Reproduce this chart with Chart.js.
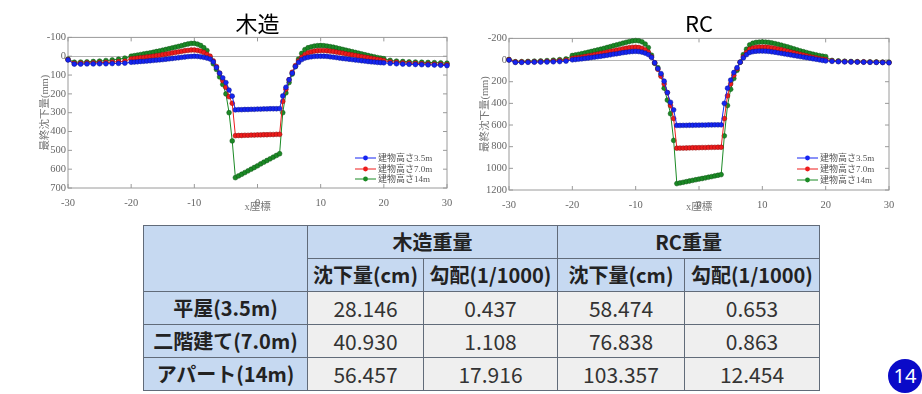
<!DOCTYPE html>
<html>
<head>
<meta charset="utf-8">
<script src="https://cdn.jsdelivr.net/npm/chart.js@4.4.1/dist/chart.umd.min.js"></script>
<style>
  body { margin: 0; width: 922px; height: 394px; background: #fff; overflow: hidden; position: relative; }
  canvas { position: absolute; top: 0; }
  #wood-chart { left: 0; }
  #rc-chart { left: 460px; }
  #settle-table {
    position: absolute; left: 143px; top: 225px; width: 676px;
    border-collapse: collapse; table-layout: fixed;
    font-family: "Noto Sans CJK JP", "Noto Sans", sans-serif; color: #222;
  }
  #settle-table th, #settle-table td {
    border: 1.5px solid #616b79; padding: 0; height: 32px; line-height: 1;
    text-align: center; white-space: nowrap;
  }
  #settle-table th { background: #c6d9f1; font-weight: bold; font-size: 20px; }
  #settle-table td { background: #efefef; font-size: 21px; color: #333; }
  #page-no {
    position: absolute; left: 888px; top: 359px; width: 34px; height: 34px; border-radius: 50%;
    background: #0a0ac8; color: #fff; font: 20px/34px "Noto Sans", sans-serif; text-align: center;
  }
</style>
</head>
<body>
<canvas id="wood-chart" width="460" height="215"></canvas>
<canvas id="rc-chart" width="462" height="215"></canvas>
<table id="settle-table">
  <colgroup><col style="width:164px"><col style="width:116px"><col style="width:134px"><col style="width:127px"><col style="width:135px"></colgroup>
  <tbody id="table-body"></tbody>
</table>
<div id="page-no">14</div>
<script>
// x座標 (m)
var xCoords = [-30, -29, -28, -27, -26, -25, -24, -23, -22, -21,
  -20, -19.5, -19, -18.5, -18, -17.5, -17, -16.5, -16, -15.5, -15, -14.5, -14, -13.5, -13, -12.5, -12, -11.5, -11, -10.5, -10, -9.5, -9, -8.5, -8,
  -7.5, -7, -6.5, -6, -5.5, -5, -4.5, -4,
  -3.5, -3, -2.5, -2, -1.5, -1, -0.5, 0, 0.5, 1, 1.5, 2, 2.5, 3, 3.5,
  4, 4.5, 5, 5.5, 6, 6.5, 7, 7.5,
  8, 8.5, 9, 9.5, 10, 10.5, 11, 11.5, 12, 12.5, 13, 13.5, 14, 14.5, 15, 15.5, 16, 16.5, 17, 17.5, 18, 18.5, 19, 19.5, 20,
  21, 22, 23, 24, 25, 26, 27, 28, 29, 30];

// 木造 最終沈下量 (mm)
var wood35 = [20, 42, 42, 41, 41, 40, 40, 39, 38, 37,
  32, 31, 29.5, 28, 27, 25.5, 24, 22.5, 21, 19.5, 18, 16, 14, 12, 10, 8, 6, 4, 2, 1, 0, 1, 3, 6, 10,
  15, 30, 60, 90, 115, 140, 180, 212,
  285, 284, 284, 283, 283, 282, 282, 281, 281, 280, 280, 279, 279, 279, 278,
  211, 165, 125, 90, 55, 33, 18, 10,
  6, 3, 1, 0, 0, 0, 1, 3, 5, 7, 10, 12, 14, 16, 18, 20, 22, 24, 26, 28, 30, 31, 33, 34, 35,
  38, 40, 42, 43, 44, 45, 46, 47, 48, 50];
var wood70 = [18, 38, 37, 36, 35, 34, 33, 31, 29, 26,
  14, 12, 10, 8, 6, 4, 2, 0, -3, -5, -8, -11, -14, -17, -20, -23, -26, -29, -31, -33, -33, -31, -27, -20, -10,
  0, 25, 55, 90, 130, 165, 215, 250,
  422, 421, 421, 420, 420, 419, 419, 418, 418, 417, 417, 416, 416, 415, 415,
  240, 175, 125, 85, 50, 25, 5, -8,
  -18, -23, -27, -29, -30, -30, -29, -27, -25, -22, -19, -16, -13, -10, -7, -4, -1, 2, 5, 8, 11, 14, 17, 20, 23,
  30, 33, 35, 37, 38, 40, 41, 42, 43, 45];
var wood14 = [15, 32, 31, 30, 28, 26, 23, 20, 16, 10,
  0, -3, -6, -9, -12, -15, -18, -21, -25, -28, -32, -36, -40, -44, -48, -52, -56, -61, -65, -68, -68, -64, -57, -45, -30,
  10, 40, 70, 110, 150, 200, 300, 450,
  645, 636, 627, 618, 609, 600, 591, 582, 572, 563, 554, 545, 536, 527, 518,
  300, 195, 140, 95, 55, 15, -15, -35,
  -45, -50, -54, -56, -57, -56, -54, -51, -48, -44, -40, -36, -32, -28, -24, -20, -16, -12, -8, -4, 0, 3, 7, 10, 13,
  22, 26, 28, 30, 31, 32, 33, 34, 35, 37];

// RC 最終沈下量 (mm)
var rc35 = [0, 22, 22, 21, 20, 19, 18, 16, 14, 10,
  -2, -5, -8, -11, -15, -19, -23, -27, -31, -35, -40, -44, -49, -54, -58, -63, -68, -72, -76, -79, -80, -78, -73, -64, -51,
  -25, 25, 80, 125, 195, 300, 390, 460,
  604, 604, 603, 603, 602, 602, 601, 601, 600, 600, 599, 599, 598, 598, 598,
  400, 260, 185, 115, 70, 20, -20, -50,
  -70, -77, -81, -83, -83, -82, -80, -76, -72, -67, -62, -57, -52, -47, -42, -37, -32, -27, -22, -17, -12, -7, -2, 3, 8,
  12, 15, 17, 18, 19, 20, 21, 22, 23, 25];
var rc70 = [-3, 18, 18, 17, 16, 14, 12, 9, 5, 0,
  -15, -19, -23, -28, -33, -38, -43, -49, -55, -61, -67, -73, -79, -85, -91, -97, -103, -109, -114, -118, -119, -116, -108, -93, -72,
  -30, 25, 85, 150, 220, 300, 420, 540,
  814, 813, 813, 812, 811, 810, 810, 809, 808, 808, 807, 806, 806, 805, 805,
  540, 330, 220, 140, 80, 20, -30, -70,
  -100, -110, -116, -119, -120, -119, -116, -112, -107, -101, -95, -88, -81, -74, -67, -60, -53, -46, -39, -32, -25, -19, -13, -8, -4,
  8, 12, 14, 16, 17, 18, 19, 20, 21, 23];
var rc14 = [-5, 15, 14, 12, 10, 8, 5, 1, -4, -10,
  -42, -47, -53, -59, -65, -72, -79, -86, -93, -100, -108, -116, -124, -132, -140, -148, -156, -164, -171, -177, -180, -178, -168, -148, -115,
  -45, 30, 70, 135, 260, 370, 495, 742,
  1141, 1135, 1129, 1123, 1117, 1111, 1105, 1099, 1094, 1088, 1082, 1076, 1070, 1064, 1058,
  700, 420, 270, 170, 95, 20, -50, -100,
  -140, -155, -163, -166, -167, -166, -163, -158, -152, -145, -137, -129, -121, -112, -103, -94, -85, -77, -69, -61, -54, -47, -41, -36, -32,
  3, 8, 11, 13, 15, 16, 17, 18, 19, 20];

var legendLabels = ['建物高さ3.5m', '建物高さ7.0m', '建物高さ14m'];
var xRange = [-30, 30, 10];
var woodRange = [-100, 700, 100];
var rcRange = [-200, 1200, 200];

// 表
var groupHeads = ['木造重量', 'RC重量'];
var subHeads = ['沈下量(cm)', '勾配(1/1000)', '沈下量(cm)', '勾配(1/1000)'];
var rowNames = ['平屋(3.5m)', '二階建て(7.0m)', 'アパート(14m)'];
var woodSettle = ['28.146', '40.930', '56.457'];
var woodSlope = ['0.437', '1.108', '17.916'];
var rcSettle = ['58.474', '76.838', '103.357'];
var rcSlope = ['0.653', '0.863', '12.454'];

var lineColors = ['#1525f2', '#ee1c1c', '#1b8a25'];
var edgeColors = ['#0a148c', '#8c0d0d', '#0d5214'];
var serif = "'Liberation Serif', 'Noto Sans CJK JP', serif";

Chart.defaults.font.family = serif;
Chart.defaults.color = '#666';

var framePlugin = {
  id: 'frame',
  beforeDatasetsDraw: function (chart) {
    var ca = chart.chartArea;
    var c = chart.ctx;
    var xs = chart.scales.x;
    var ys = chart.scales.y;
    c.save();
    c.strokeStyle = '#9a9a9a';
    c.lineWidth = 1;
    c.strokeRect(ca.left, ca.top, ca.right - ca.left, ca.bottom - ca.top);
    c.beginPath();
    xs.ticks.forEach(function (t) {
      var px = xs.getPixelForValue(t.value);
      c.moveTo(px, ca.bottom); c.lineTo(px, ca.bottom - 4);
      c.moveTo(px, ca.top); c.lineTo(px, ca.top + 4);
    });
    ys.ticks.forEach(function (t) {
      var py = ys.getPixelForValue(t.value);
      c.moveTo(ca.left, py); c.lineTo(ca.left + 4, py);
      c.moveTo(ca.right, py); c.lineTo(ca.right - 4, py);
    });
    c.stroke();
    c.restore();
  }
};

var insideLegend = {
  id: 'insideLegend',
  afterDatasetsDraw: function (chart, args, opts) {
    var ca = chart.chartArea;
    var c = chart.ctx;
    c.save();
    c.font = '9px ' + serif;
    c.textBaseline = 'middle';
    chart.data.datasets.forEach(function (ds, i) {
      var y = ca.bottom - opts.rows[i];
      var x0 = ca.right - opts.right;
      c.strokeStyle = ds.borderColor;
      c.lineWidth = 1;
      c.beginPath(); c.moveTo(x0, y); c.lineTo(x0 + 21, y); c.stroke();
      c.fillStyle = ds.backgroundColor;
      c.beginPath(); c.arc(x0 + 10.5, y, 2.4, 0, Math.PI * 2); c.fill();
      c.fillStyle = '#555';
      c.fillText(ds.label, x0 + 23, y + 0.5);
    });
    c.restore();
  }
};

function buildDatasets(series) {
  return series.map(function (ys, i) {
    return {
      label: legendLabels[i],
      data: xCoords.map(function (x, j) { return { x: x, y: ys[j] }; }),
      borderColor: lineColors[i],
      backgroundColor: lineColors[i],
      pointBorderColor: edgeColors[i],
      pointBorderWidth: 0.5,
      pointRadius: 2.4,
      borderWidth: 1,
      tension: 0,
      clip: false
    };
  });
}

function printChart(target, title, series, range, cfg) {
  new Chart(document.getElementById(target), {
    type: 'line',
    data: { datasets: buildDatasets(series) },
    plugins: [framePlugin, insideLegend],
    options: {
      responsive: false,
      animation: false,
      devicePixelRatio: 1,
      layout: { padding: { left: 0, right: cfg.padRight, top: 0, bottom: 0 } },
      scales: {
        x: {
          type: 'linear', min: xRange[0], max: xRange[1],
          ticks: { stepSize: xRange[2], padding: 1, font: { size: 10.5 }, color: '#666' },
          grid: { display: false },
          border: { display: false },
          title: { display: true, text: 'x座標', font: { size: 10.5 }, color: '#777', padding: { top: 0, bottom: 1 } },
          afterFit: function (s) { s.height = cfg.xHeight; }
        },
        y: {
          reverse: true, min: range[0], max: range[1],
          ticks: {
            stepSize: range[2], padding: 2, font: { size: 10.5 }, color: '#666',
            callback: function (v) { return String(v); }
          },
          grid: {
            drawTicks: false,
            color: function (ctx) { return ctx.tick && ctx.tick.value === 0 ? '#b5b5b5' : 'rgba(0,0,0,0)'; }
          },
          border: { display: false },
          title: { display: true, text: '最終沈下量(mm)', font: { size: 10.5 }, color: '#777', padding: { top: cfg.yTitlePad, bottom: 0 } },
          afterFit: function (s) { s.width = cfg.yWidth; }
        }
      },
      plugins: {
        legend: { display: false },
        tooltip: { enabled: false },
        title: {
          display: true, text: title, fullSize: false, color: '#000',
          font: { family: "'Noto Sans CJK JP', 'Noto Sans', sans-serif", size: 22, weight: 'normal' },
          padding: { top: 10, bottom: cfg.titleBottom }
        },
        insideLegend: { right: 92, rows: cfg.legendRows }
      }
    }
  });
}

function printTable() {
  var body = document.getElementById('table-body');
  var html = '<tr><th rowspan="2"></th>';
  groupHeads.forEach(function (h) { html += '<th colspan="2">' + h + '</th>'; });
  html += '</tr><tr>';
  subHeads.forEach(function (h) { html += '<th>' + h + '</th>'; });
  html += '</tr>';
  rowNames.forEach(function (name, i) {
    html += '<tr><th>' + name + '</th><td>' + woodSettle[i] + '</td><td>' + woodSlope[i] +
      '</td><td>' + rcSettle[i] + '</td><td>' + rcSlope[i] + '</td></tr>';
  });
  body.innerHTML = html;
}

printChart('wood-chart', '木造', [wood35, wood70, wood14], woodRange,
  { padRight: 13, xHeight: 27, yWidth: 68, yTitlePad: 39, titleBottom: 1, legendRows: [30, 19, 9] });
printChart('rc-chart', 'RC', [rc35, rc70, rc14], rcRange,
  { padRight: 33, xHeight: 25, yWidth: 49, yTitlePad: 19, titleBottom: 2, legendRows: [32, 21, 10] });
printTable();
</script>
</body>
</html>
